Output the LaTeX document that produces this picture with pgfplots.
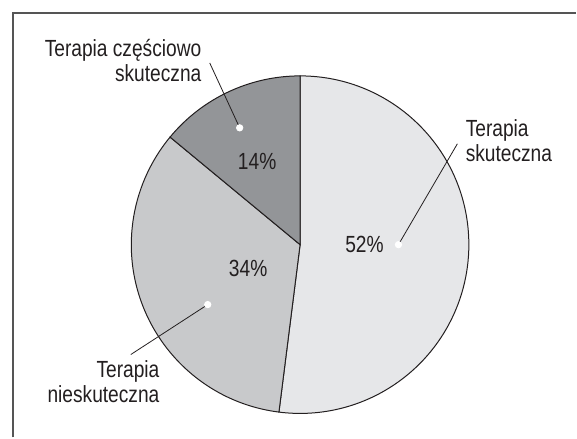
\documentclass[border=0pt]{standalone}
\usepackage{fontspec}
\setmainfont{Liberation Sans}[FakeStretch=0.82]
\usepackage{pgfplots}
\pgfplotsset{compat=1.18}
\definecolor{sA}{HTML}{E6E7E9}
\definecolor{sB}{HTML}{C8C9CB}
\definecolor{sC}{HTML}{939598}
\definecolor{edge}{HTML}{231F20}
\definecolor{frame}{HTML}{555555}
% slice values (percent)
\def\vA{52}\def\vB{34}\def\vC{14}
\pgfmathsetmacro\aA{90}
\pgfmathsetmacro\aB{90-\vA*3.6}
\pgfmathsetmacro\aC{\aB-\vB*3.6}
\pgfmathsetmacro\aD{\aC-\vC*3.6}
\begin{document}
\begin{tikzpicture}
\begin{axis}[hide axis, scale only axis, width=288.5pt, height=219pt,
  xmin=0, xmax=577, ymin=0, ymax=438, clip=false]
\path (axis cs:0,0) rectangle (axis cs:577,438);
% frame (top and left)
\draw[frame, line width=0.8pt] (axis cs:13,0) -- (axis cs:13,425) -- (axis cs:577,425);
% pie slices
\def\R{84.5pt}
\filldraw[fill=sA, draw=edge, line width=0.5pt] (axis cs:300.5,193) -- ++(\aA:\R) arc[start angle=\aA, end angle=\aB, radius=\R] -- cycle;
\filldraw[fill=sB, draw=edge, line width=0.5pt] (axis cs:300.5,193) -- ++(\aB:\R) arc[start angle=\aB, end angle=\aC, radius=\R] -- cycle;
\filldraw[fill=sC, draw=edge, line width=0.5pt] (axis cs:300.5,193) -- ++(\aC:\R) arc[start angle=\aC, end angle=\aD, radius=\R] -- cycle;
% leader lines
\addplot[edge, line width=0.4pt] coordinates {(210,375) (240,310)};
\addplot[edge, line width=0.4pt] coordinates {(458,294) (399,193)};
\addplot[edge, line width=0.4pt] coordinates {(131,83) (208,133)};
\addplot[only marks, mark=*, mark size=1.6pt, mark options={fill=white, draw=white}] coordinates {(240,310) (399,193) (208,133)};
% percent labels
\node[anchor=base, font=\fontsize{11.7}{12.5}\selectfont, text=edge, inner sep=0pt] at (axis cs:257.5,268) {14\%};
\node[anchor=base, font=\fontsize{11.7}{12.5}\selectfont, text=edge, inner sep=0pt] at (axis cs:365,185) {52\%};
\node[anchor=base, font=\fontsize{11.7}{12.5}\selectfont, text=edge, inner sep=0pt] at (axis cs:248.5,161) {34\%};
% category labels
\node[anchor=base east, font=\fontsize{11.7}{12.5}\selectfont, text=edge, inner sep=0pt] at (axis cs:202,381) {Terapia częściowo};
\node[anchor=base east, font=\fontsize{11.7}{12.5}\selectfont, text=edge, inner sep=0pt] at (axis cs:202,356) {skuteczna};
\node[anchor=base west, font=\fontsize{11.7}{12.5}\selectfont, text=edge, inner sep=0pt] at (axis cs:466,301) {Terapia};
\node[anchor=base west, font=\fontsize{11.7}{12.5}\selectfont, text=edge, inner sep=0pt] at (axis cs:466,276) {skuteczna};
\node[anchor=base east, font=\fontsize{11.7}{12.5}\selectfont, text=edge, inner sep=0pt] at (axis cs:160,60) {Terapia};
\node[anchor=base east, font=\fontsize{11.7}{12.5}\selectfont, text=edge, inner sep=0pt] at (axis cs:160,35) {nieskuteczna};
\end{axis}
\end{tikzpicture}
\end{document}
